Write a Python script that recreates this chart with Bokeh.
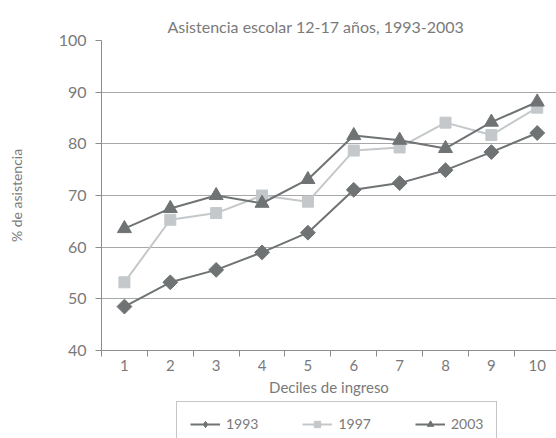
from bokeh.plotting import figure
from bokeh.models import FixedTicker, Range1d, Legend, LegendItem
from bokeh.layouts import column
from bokeh.embed import file_html
from bokeh.resources import INLINE
import math

deciles = [1, 2, 3, 4, 5, 6, 7, 8, 9, 10]
y1993 = [48.5, 53.2, 55.6, 59.0, 62.8, 71.1, 72.4, 74.9, 78.4, 82.1]
y1997 = [53.2, 65.3, 66.6, 70.0, 68.8, 78.7, 79.3, 84.1, 81.7, 87.0]
y2003 = [63.6, 67.5, 70.0, 68.5, 73.1, 81.6, 80.7, 79.1, 84.2, 88.1]
y_ticks = [40, 50, 60, 70, 80, 90, 100]
series_names = ["1993", "1997", "2003"]

DARK = "#6f7374"
LIGHT = "#c4c8ca"
TEXT = "#7a7a7a"
GRID = "#a8a8a8"
AXIS = "#8c8c8c"
FONT = "Lato"

p = figure(width=556, height=400, output_backend="svg", toolbar_location=None,
           x_range=Range1d(0.5, 10.42), y_range=Range1d(40, 100),
           min_border_left=101, min_border_right=0, min_border_top=40,
           min_border_bottom=50)
p.outline_line_color = None

p.title.text = "Asistencia escolar 12-17 años, 1993-2003"
p.title.align = "left"
p.title.offset = 66
p.title.text_font = FONT
p.title.text_font_size = "16px"
p.title.text_font_style = "normal"
p.title.text_color = TEXT

# Axes
xa = p.xaxis[0]
xa.ticker = FixedTicker(ticks=deciles, minor_ticks=[d - 0.5 for d in deciles] + [10.5])
xa.major_tick_line_color = None
xa.minor_tick_out = 6
xa.minor_tick_in = 0
xa.minor_tick_line_color = AXIS
xa.axis_line_color = AXIS
xa.major_label_standoff = 3
xa.major_label_text_font = FONT
xa.major_label_text_font_size = "15px"
xa.major_label_text_color = TEXT
xa.axis_label = "Deciles de ingreso"
xa.axis_label_text_font = FONT
xa.axis_label_text_font_size = "15px"
xa.axis_label_text_font_style = "normal"
xa.axis_label_text_color = TEXT
xa.axis_label_standoff = 4

ya = p.yaxis[0]
ya.ticker = FixedTicker(ticks=y_ticks, minor_ticks=[])
ya.major_tick_out = 6
ya.major_tick_in = 0
ya.major_tick_line_color = AXIS
ya.axis_line_color = AXIS
ya.major_label_standoff = 9
ya.major_label_text_font = FONT
ya.major_label_text_font_size = "16px"
ya.major_label_text_color = TEXT
ya.axis_label = "% de asistencia"
ya.axis_label_text_font = FONT
ya.axis_label_text_font_size = "14px"
ya.axis_label_text_font_style = "normal"
ya.axis_label_text_color = TEXT
ya.axis_label_standoff = 31

p.xgrid.grid_line_color = None
p.ygrid.grid_line_color = GRID
p.ygrid.grid_line_width = 1.2

# Series
p.line(deciles, y1997, color=LIGHT, line_width=2)
p.scatter(deciles, y1997, marker="square", size=11, color=LIGHT)
p.line(deciles, y1993, color=DARK, line_width=2)
p.scatter(deciles, y1993, marker="square", angle=math.pi / 4, size=10.5, color=DARK)
p.line(deciles, y2003, color=DARK, line_width=2)
p.scatter(deciles, y2003, marker="triangle", size=14, color=DARK)

# Legend strip: a separate figure (its ranges keep its own copies of the
# series out of view) so the legend box can sit below the axis title.
p2 = figure(width=556, height=38, output_backend="svg", toolbar_location=None,
            x_range=Range1d(-20, -19), y_range=Range1d(0, 1),
            x_axis_type=None, y_axis_type=None, min_border=0)
p2.outline_line_color = None
p2.grid.visible = False
styles = [(DARK, "diamond", y1993), (LIGHT, "square", y1997), (DARK, "triangle", y2003)]
items = []
for name, (col, mk, ys) in zip(series_names, styles):
    lr = p2.line(deciles, ys, color=col, line_width=2)
    sr = p2.scatter(deciles, ys, marker=mk, size=12, color=col)
    items.append(LegendItem(label=name, renderers=[lr, sr]))

legend = Legend(items=items, orientation="horizontal", location=(75, -8))
legend.border_line_color = AXIS
legend.border_line_width = 1.5
legend.background_fill_alpha = 0
legend.label_text_font = FONT
legend.label_text_font_size = "14px"
legend.label_text_color = TEXT
legend.glyph_width = 30
legend.label_standoff = 6
legend.spacing = 44
legend.padding = 13
legend.margin = 0
legend.label_height = 16
legend.glyph_height = 16
p2.add_layout(legend, "center")

layout = column(p, p2, spacing=0)
open("out.html", "w").write(file_html(layout, INLINE))
